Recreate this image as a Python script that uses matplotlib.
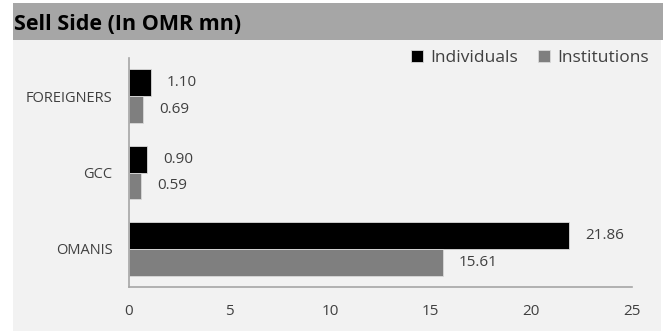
import matplotlib
matplotlib.use("Agg")
import matplotlib.pyplot as plt
from matplotlib.patches import Rectangle
import numpy as np

categories = ["OMANIS", "GCC", "FOREIGNERS"]
individuals = [21.86, 0.90, 1.10]
institutions = [15.61, 0.59, 0.69]
xticks = [0, 5, 10, 15, 20, 25]
title = "Sell Side (In OMR mn)"

plt.rcParams['font.family'] = ['Open Sans', 'DejaVu Sans']
txt = "#404040"

fig = plt.figure(figsize=(6.69, 3.31), dpi=100)
fig.patch.set_facecolor("white")
# chart background
fig.patches.append(Rectangle((13/669, 0), (661-13)/669, 1-40/331, transform=fig.transFigure,
                             facecolor="#f2f2f2", edgecolor="none", zorder=-2))
# title band
fig.patches.append(Rectangle((13/669, 1-40/331), (663-13)/669, 37/331, transform=fig.transFigure,
                             facecolor="#a6a6a6", edgecolor="none", zorder=-2))
fig.text(14/669, 1-25/331, title, fontsize=15.5, fontweight="bold", color="black",
         va="center", ha="left")

ax = fig.add_axes([129/669, 1-287/331, (632-129)/669, (287-58)/331])
ax.set_facecolor("none")
y = np.arange(len(categories))
h = 0.353
b1 = ax.barh(y + h/2, individuals, height=h, color="black", edgecolor="#d9d9d9", linewidth=0.6, label="Individuals")
b2 = ax.barh(y - h/2, institutions, height=h, color="#7f7f7f", edgecolor="#d9d9d9", linewidth=0.6, label="Institutions")
for bars, vals in ((b1, individuals), (b2, institutions)):
    for rect, v in zip(bars, vals):
        ax.annotate(f"{v:.2f}", (rect.get_width(), rect.get_y() + rect.get_height()/2),
                    xytext=(11.5, 0), textcoords="offset points", va="center", ha="left",
                    fontsize=11, color=txt)

ax.set_xlim(0, 25)
ax.set_ylim(-0.5, 2.5)
ax.set_xticks(xticks)
ax.set_xticklabels([str(t) for t in xticks], fontsize=11, color=txt)
ax.set_yticks(y)
ax.set_yticklabels(categories, fontsize=10.5, color=txt)
ax.tick_params(axis="both", length=0)
ax.tick_params(axis="x", pad=12)
ax.tick_params(axis="y", pad=12)
for s in ("top", "right"):
    ax.spines[s].set_visible(False)
for s in ("left", "bottom"):
    ax.spines[s].set_color("#a6a6a6")
    ax.spines[s].set_linewidth(1.2)

fig.legend(handles=[b1, b2], loc="upper right", bbox_to_anchor=(656/669, 1-43/331), ncol=2,
           frameon=False, fontsize=12.5, handlelength=0.7, handleheight=0.7,
           handletextpad=0.4, columnspacing=1.2, labelcolor=txt, borderaxespad=0)

fig.savefig("out.png", dpi=100, facecolor=fig.get_facecolor())
